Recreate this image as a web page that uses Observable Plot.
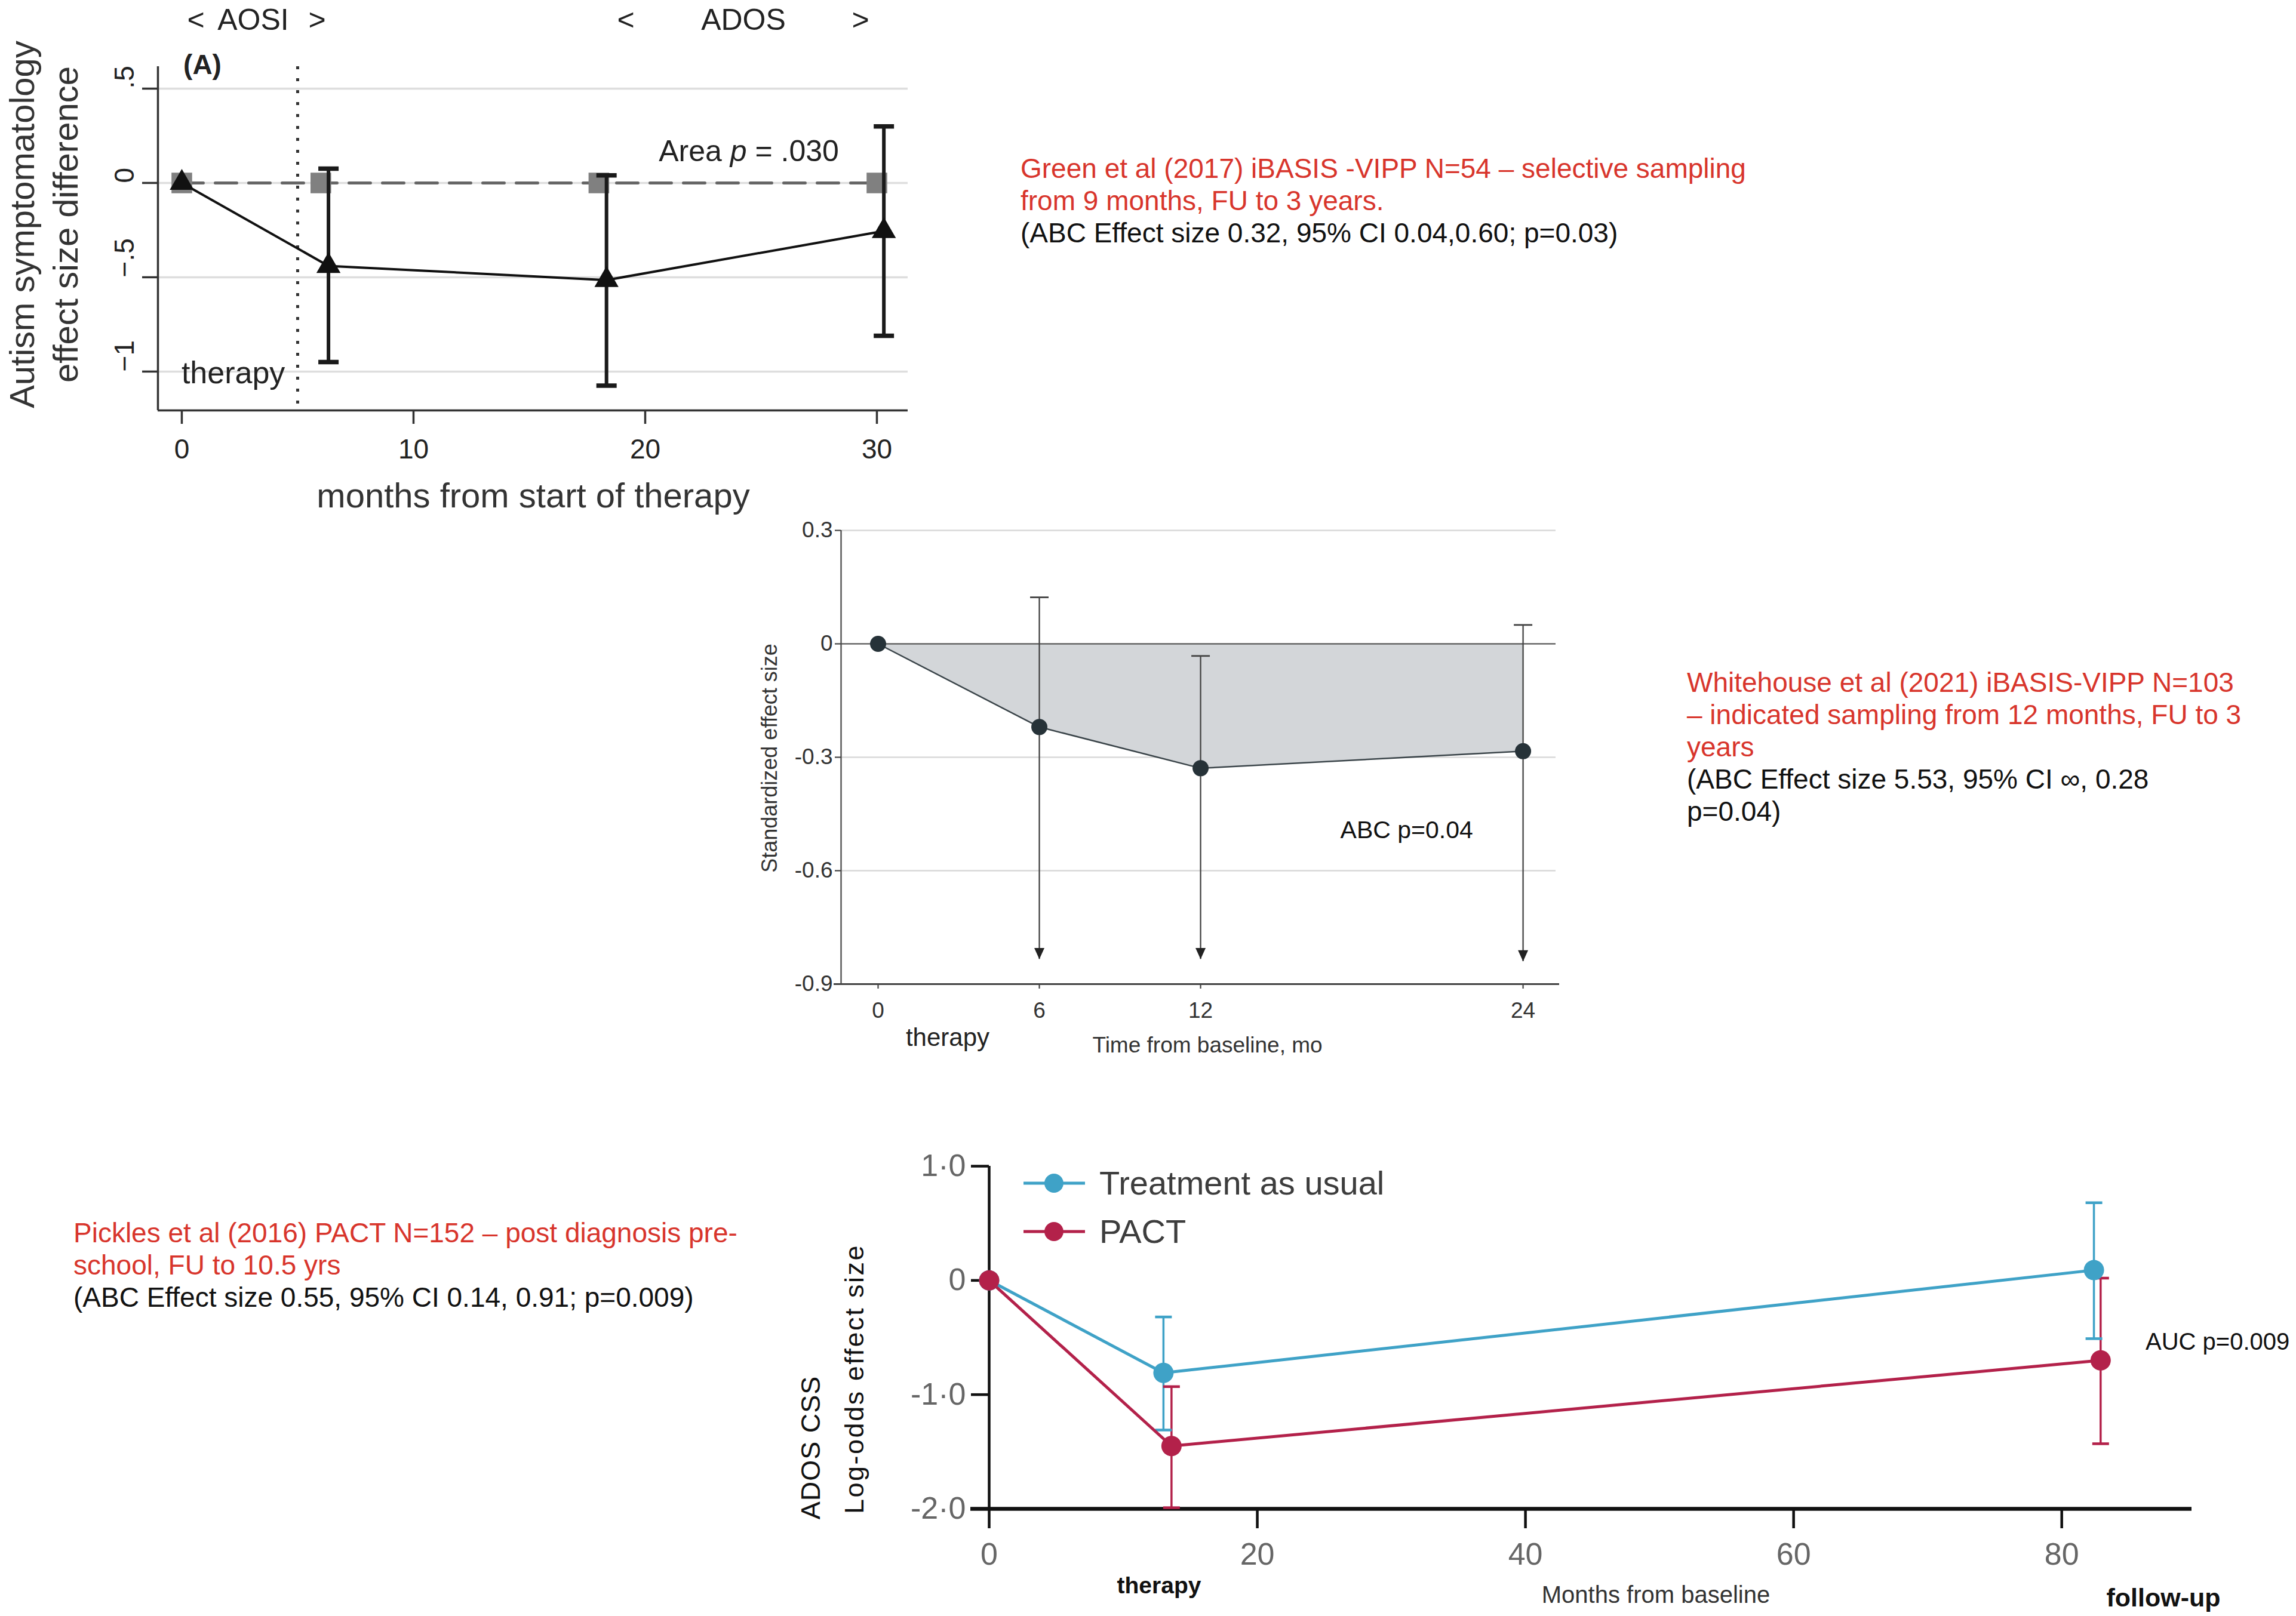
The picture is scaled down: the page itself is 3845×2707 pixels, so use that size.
<!DOCTYPE html>
<html>
<head>
<meta charset="utf-8">
<script src="https://cdn.jsdelivr.net/npm/d3@7"></script>
<script src="https://cdn.jsdelivr.net/npm/@observablehq/plot@0.6"></script>
<style>
  html, body { margin: 0; padding: 0; background: #fff; }
  body { width: 3845px; height: 2707px; position: relative; overflow: hidden;
         font-family: 'Liberation Sans', Arial, Helvetica, sans-serif; }
  .abs { position: absolute; white-space: nowrap; line-height: 1; }
  .note { position: absolute; white-space: nowrap; font-size: 46px; line-height: 54px; }
  .red { color: #d8352c; }
  .blk { color: #111; }
</style>
</head>
<body>
<script>
// ---------------- DATA ----------------
// Panel A: Green et al (2017)
const monthsA_int = [0, 6.33, 18.33, 30.3];
const esA_int     = [0, -0.44, -0.515, -0.255];
const loA_int     = [null, -0.95, -1.075, -0.81];
const hiA_int     = [null, 0.076, 0.04, 0.30];
const monthsA_ctl = [0, 6, 18, 30];
const esA_ctl     = [0, 0, 0, 0];
const therapyEndA = [5];
const xTicksA = [0, 10, 20, 30];
const yTicksA = [0.5, 0, -0.5, -1];
const yTickLabelsA = [".5", "0", "\u2212.5", "\u22121"];
const xDomainA = [-1.03, 31.34];
const yDomainA = [-1.206, 0.617];

// Panel B: Whitehouse et al (2021)
const monthsB = [0, 6, 12, 24];
const esB     = [0, -0.22, -0.329, -0.284];
const hiB     = [null, 0.123, -0.032, 0.05];
const loB     = [null, -0.834, -0.834, -0.84];
const xTicksB = [0, 6, 12, 24];
const yTicksB = [0.3, 0, -0.3, -0.6, -0.9];
const yTickLabelsB = ["0.3", "0", "-0.3", "-0.6", "-0.9"];
const gridB = [0.3, -0.3, -0.6];
const xDomainB = [-1.378, 25.22];
const yDomainB = [-0.9, 0.3];

// Panel C: Pickles et al (2016)
const seriesC = ["Treatment as usual", "PACT"];
const colorsC = ["#3fa2c7", "#b3214a"];
const monthsTAU = [0, 13.0, 82.4];
const esTAU     = [0, -0.81, 0.09];
const loTAU     = [null, -1.31, -0.51];
const hiTAU     = [null, -0.32, 0.68];
const monthsPACT = [0, 13.6, 82.9];
const esPACT     = [0, -1.45, -0.70];
const loPACT     = [null, -1.99, -1.43];
const hiPACT     = [null, -0.93, 0.02];
const xTicksC = [0, 20, 40, 60, 80];
const yTicksC = [1, 0, -1, -2];
const yTickLabelsC = ["1\u00b70", "0", "-1\u00b70", "-2\u00b70"];
const xDomainC = [0, 89.7];
const yDomainC = [-2, 1];

// ---------------- HELPERS ----------------
function hasFont(name) {
  const c = document.createElement("canvas").getContext("2d");
  const s = "mmmmmmmmmmlliWWWabc0123";
  c.font = "72px monospace"; const a = c.measureText(s).width;
  c.font = `72px '${name}', monospace`; const b = c.measureText(s).width;
  return Math.abs(a - b) > 0.5;
}
const ARIAL = "'Liberation Sans', Arial, Helvetica, sans-serif";
const narrowOK = hasFont("Liberation Sans Narrow");
const NARROW = narrowOK ? "'Liberation Sans Narrow', 'Liberation Sans', sans-serif" : ARIAL;
const NK = narrowOK ? 1 / 0.82 : 1;

function put(html, x, y, o = {}) {
  const d = document.createElement("div");
  d.className = "abs";
  d.innerHTML = html;
  d.style.left = x + "px";
  d.style.top = y + "px";
  d.style.fontSize = (o.size || 40) + "px";
  d.style.color = o.color || "#111";
  d.style.fontFamily = o.family || ARIAL;
  if (o.weight) d.style.fontWeight = o.weight;
  if (o.ls) d.style.letterSpacing = o.ls + "px";
  const tx = o.anchor === "start" ? "0" : "-50%";
  d.style.transform = `translate(${tx}, -50%)`;
  if (o.rotate) { d.style.transformOrigin = "0 0"; d.style.transform = `rotate(${o.rotate}deg) translate(-50%, -50%)`; }
  document.body.appendChild(d);
  return d;
}
function place(svg, left, top) {
  const w = document.createElement("div");
  w.style.position = "absolute"; w.style.left = left + "px"; w.style.top = top + "px";
  w.appendChild(svg); document.body.appendChild(w);
}
const capSymbol = { draw(ctx, size) { const r = Math.sqrt(size / Math.PI); ctx.moveTo(-r, 0); ctx.lineTo(r, 0); } };
const arrowDown = { draw(ctx, size) { const r = Math.sqrt(size / Math.PI); ctx.moveTo(0, 0); ctx.lineTo(-r, -2.2 * r); ctx.lineTo(r, -2.2 * r); ctx.closePath(); } };
const rows = (xs, ys, lo, hi) => xs.map((t, i) => ({ t, es: ys[i], lo: lo ? lo[i] : null, hi: hi ? hi[i] : null }));

// ---------------- PANEL A ----------------
const A_int = rows(monthsA_int, esA_int, loA_int, hiA_int);
const A_ctl = rows(monthsA_ctl, esA_ctl);
const A_err = A_int.filter(d => d.lo != null);
const A_caps = A_err.flatMap(d => [{ t: d.t, v: d.lo }, { t: d.t, v: d.hi }]);

const plotA = Plot.plot({
  width: 1620, height: 880,
  marginLeft: 264, marginRight: 100, marginTop: 111, marginBottom: 193,
  x: { domain: xDomainA },
  y: { domain: yDomainA },
  style: { fontFamily: ARIAL, background: "transparent", color: "#222", overflow: "visible" },
  marks: [
    Plot.gridY(yTicksA, { stroke: "#dedede", strokeOpacity: 1, strokeWidth: 3.5 }),
    Plot.ruleX(therapyEndA, { stroke: "#333", strokeWidth: 5, strokeDasharray: "5 15" }),
    Plot.ruleX([xDomainA[0]], { stroke: "#333", strokeWidth: 3.5 }),
    Plot.ruleY([yDomainA[0]], { stroke: "#333", strokeWidth: 3.5 }),
    Plot.axisY({ ticks: yTicksA, tickSize: 26, tickFormat: () => "", stroke: "#333", strokeWidth: 3.5, label: null }),
    Plot.text(yTicksA, { y: d => d, text: d => yTickLabelsA[yTicksA.indexOf(d)], frameAnchor: "left", dx: -55, rotate: -90, fontSize: 46, fill: "#222" }),
    Plot.axisX({ ticks: xTicksA, tickSize: 23, tickPadding: 25, fontSize: 46, stroke: "#333", strokeWidth: 3.5, fill: "#222", label: null }),
    Plot.line(A_ctl, { x: "t", y: "es", stroke: "#666", strokeWidth: 5, strokeDasharray: "36 20" }),
    Plot.dot(A_ctl, { x: "t", y: "es", symbol: "square", r: 19.5, fill: "#808080" }),
    Plot.ruleX(A_err, { x: "t", y1: "lo", y2: "hi", stroke: "#1a1a1a", strokeWidth: 6 }),
    Plot.dot(A_caps, { x: "t", y: "v", symbol: capSymbol, r: 17, stroke: "#1a1a1a", strokeWidth: 7.5, fill: "none" }),
    Plot.line(A_int, { x: "t", y: "es", stroke: "#111", strokeWidth: 4 }),
    Plot.dot(A_int, { x: "t", y: "es", symbol: "triangle", r: 15, fill: "#111" }),
    Plot.text(["therapy"], { x: 2.22, y: -1.01, fontSize: 52, fill: "#222" })
  ]
});
place(plotA, 0, 0);

put("&lt;", 328, 33, { size: 50, color: "#222" });
put("AOSI", 424, 33, { size: 50, color: "#222" });
put("&gt;", 531, 33, { size: 50, color: "#222" });
put("&lt;", 1048, 33, { size: 50, color: "#222" });
put("ADOS", 1245, 33, { size: 50, color: "#222" });
put("&gt;", 1441, 33, { size: 50, color: "#222" });
put("(A)", 339, 108, { size: 46, weight: "bold", color: "#222" });
put("Area <i>p</i> = .030", 1254, 253, { size: 50, color: "#222" });
put("Autism symptomatology", 37, 376, { size: 58, color: "#333", rotate: -90 });
put("effect size difference", 110, 376, { size: 58, color: "#333", rotate: -90 });
put("months from start of therapy", 893, 830, { size: 58, color: "#333" });

// ---------------- PANEL B ----------------
const B = rows(monthsB, esB, loB, hiB);
const B_err = B.filter(d => d.lo != null);

const plotB = Plot.plot({
  width: 1400, height: 960,
  marginLeft: 158, marginRight: 45, marginTop: 68, marginBottom: 132,
  x: { domain: xDomainB },
  y: { domain: yDomainB },
  style: { fontFamily: NARROW, background: "transparent", color: "#333", overflow: "visible" },
  marks: [
    Plot.gridY(gridB, { stroke: "#d9d9d9", strokeOpacity: 1, strokeWidth: 2.5 }),
    Plot.areaY(B, { x: "t", y: "es", fill: "#d3d6d9" }),
    Plot.ruleY([0], { stroke: "#444", strokeWidth: 2.2 }),
    Plot.ruleX([xDomainB[0]], { stroke: "#444", strokeWidth: 2.2 }),
    Plot.ruleY([yDomainB[0]], { stroke: "#444", strokeWidth: 2.8, insetLeft: -12, insetRight: -6 }),
    Plot.axisY({ ticks: yTicksB, tickSize: 10, tickPadding: 4, tickFormat: d => yTickLabelsB[yTicksB.indexOf(d)], fontSize: 37 * NK, stroke: "#444", strokeWidth: 2.2, fill: "#333", label: null }),
    Plot.axisX({ ticks: xTicksB, tickSize: 8, tickPadding: 22, fontSize: 37 * NK, stroke: "#444", strokeWidth: 2.2, fill: "#333", label: null }),
    Plot.ruleX(B_err, { x: "t", y1: "lo", y2: "hi", stroke: "#444", strokeWidth: 2.3 }),
    Plot.dot(B_err, { x: "t", y: "hi", symbol: capSymbol, r: 15.5, stroke: "#444", strokeWidth: 2.8, fill: "none" }),
    Plot.dot(B_err, { x: "t", y: "lo", symbol: arrowDown, r: 8.5, fill: "#222", stroke: "none" }),
    Plot.line(B, { x: "t", y: "es", stroke: "#3a4449", strokeWidth: 2.5 }),
    Plot.dot(B, { x: "t", y: "es", r: 13.5, fill: "#263238" }),
    Plot.text(["ABC p=0.04"], { x: 17.2, y: -0.494, textAnchor: "start", fontSize: 41, fill: "#111", fontFamily: ARIAL })
  ]
});
place(plotB, 1250, 820);

put("Standardized effect size", 1289, 1270, { size: 36 * NK, color: "#333", family: NARROW, rotate: -90 });
put("therapy", 1587, 1738, { size: 42 * NK, color: "#222", family: NARROW });
put("Time from baseline, mo", 2022, 1750, { size: 37 * NK, color: "#333", family: NARROW });

// ---------------- PANEL C ----------------
const TAU = rows(monthsTAU, esTAU, loTAU, hiTAU).map(d => ({ ...d, s: seriesC[0] }));
const PACT = rows(monthsPACT, esPACT, loPACT, hiPACT).map(d => ({ ...d, s: seriesC[1] }));
const C = [...TAU, ...PACT];
const C_err = C.filter(d => d.lo != null);
const C_caps = C_err.flatMap(d => [{ t: d.t, v: d.lo, s: d.s }, { t: d.t, v: d.hi, s: d.s }]);

const plotC = Plot.plot({
  width: 2545, height: 827,
  marginLeft: 356, marginRight: 175, marginTop: 73, marginBottom: 180,
  x: { domain: xDomainC },
  y: { domain: yDomainC },
  color: { domain: seriesC, range: colorsC },
  style: { fontFamily: NARROW, background: "transparent", color: "#111", overflow: "visible" },
  marks: [
    Plot.ruleX([xDomainC[0]], { stroke: "#111", strokeWidth: 4.5 }),
    Plot.axisY({ ticks: yTicksC, tickSize: 30, tickPadding: 9, tickFormat: d => yTickLabelsC[yTicksC.indexOf(d)], fontSize: 52 * NK, stroke: "#111", strokeWidth: 4.5, fill: "#666", label: null }),
    Plot.axisX({ ticks: xTicksC, tickSize: 33, tickPadding: 24, fontSize: 52 * NK, stroke: "#111", strokeWidth: 4.5, fill: "#666", label: null }),
    Plot.ruleY([yDomainC[0]], { stroke: "#111", strokeWidth: 6.5, insetLeft: -31 }),
    Plot.ruleX(C_err, { x: "t", y1: "lo", y2: "hi", stroke: "s", strokeWidth: 3.5 }),
    Plot.dot(C_caps, { x: "t", y: "v", symbol: capSymbol, r: 14, stroke: "s", strokeWidth: 4.5, fill: "none" }),
    Plot.line(C, { x: "t", y: "es", z: "s", stroke: "s", strokeWidth: 5 }),
    Plot.dot(C, { x: "t", y: "es", r: 17, fill: "s" }),
    Plot.text(["AUC p=0.009"], { x: 86.25, y: -0.54, textAnchor: "start", fontSize: 40, fill: "#111", fontFamily: ARIAL })
  ]
});
place(plotC, 1300, 1880);

// legend for panel C
seriesC.forEach((name, i) => {
  const y = [1982, 2063][i];
  const d = document.createElement("div");
  d.style.position = "absolute"; d.style.left = "1714px"; d.style.top = (y - 40) + "px";
  d.style.height = "80px"; d.style.display = "flex"; d.style.alignItems = "center"; d.style.whiteSpace = "nowrap";
  d.innerHTML = `<svg width="103" height="80"><line x1="0" y1="40" x2="103" y2="40" stroke="${colorsC[i]}" stroke-width="5"/><circle cx="51" cy="40" r="16" fill="${colorsC[i]}"/></svg>` +
    `<span style="margin-left:24px;font-size:${56 * (narrowOK ? 1.15 : 1)}px;color:#3d3d3d;font-family:${NARROW};line-height:1">${name}</span>`;
  document.body.appendChild(d);
});

put("ADOS CSS", 1357, 2425, { size: 45, color: "#111", rotate: -90, ls: 1 });
put("Log-odds effect size", 1430, 2310, { size: 45, color: "#111", rotate: -90, ls: 2.5 });
put("therapy", 1941, 2655, { size: 39 * NK, weight: "bold", color: "#111", family: NARROW });
put("Months from baseline", 2773, 2671, { size: 40 * NK, color: "#333", family: NARROW });
put("follow-up", 3623, 2676, { size: 43 * NK, weight: "bold", color: "#111", family: NARROW });

// ---------------- NOTES ----------------
function note(lines, x, y) {
  const d = document.createElement("div");
  d.className = "note"; d.style.left = x + "px"; d.style.top = y + "px";
  d.innerHTML = lines.map(([cls, t]) => `<div class="${cls}">${t}</div>`).join("");
  document.body.appendChild(d);
}
note([
  ["red", "Green et al (2017) iBASIS -VIPP N=54 \u2013 selective sampling"],
  ["red", "from 9 months, FU to 3 years."],
  ["blk", "(ABC Effect size 0.32, 95% CI 0.04,0.60; p=0.03)"]
], 1709, 255);
note([
  ["red", "Whitehouse et al (2021) iBASIS-VIPP N=103"],
  ["red", "\u2013 indicated sampling from 12 months, FU to 3"],
  ["red", "years"],
  ["blk", "(ABC Effect size 5.53, 95% CI \u221e, 0.28"],
  ["blk", "p=0.04)"]
], 2825, 1116);
note([
  ["red", "Pickles et al (2016) PACT N=152 \u2013 post diagnosis pre-"],
  ["red", "school, FU to 10.5 yrs"],
  ["blk", "(ABC Effect size 0.55, 95% CI 0.14, 0.91; p=0.009)"]
], 123, 2038);
</script>
</body>
</html>
